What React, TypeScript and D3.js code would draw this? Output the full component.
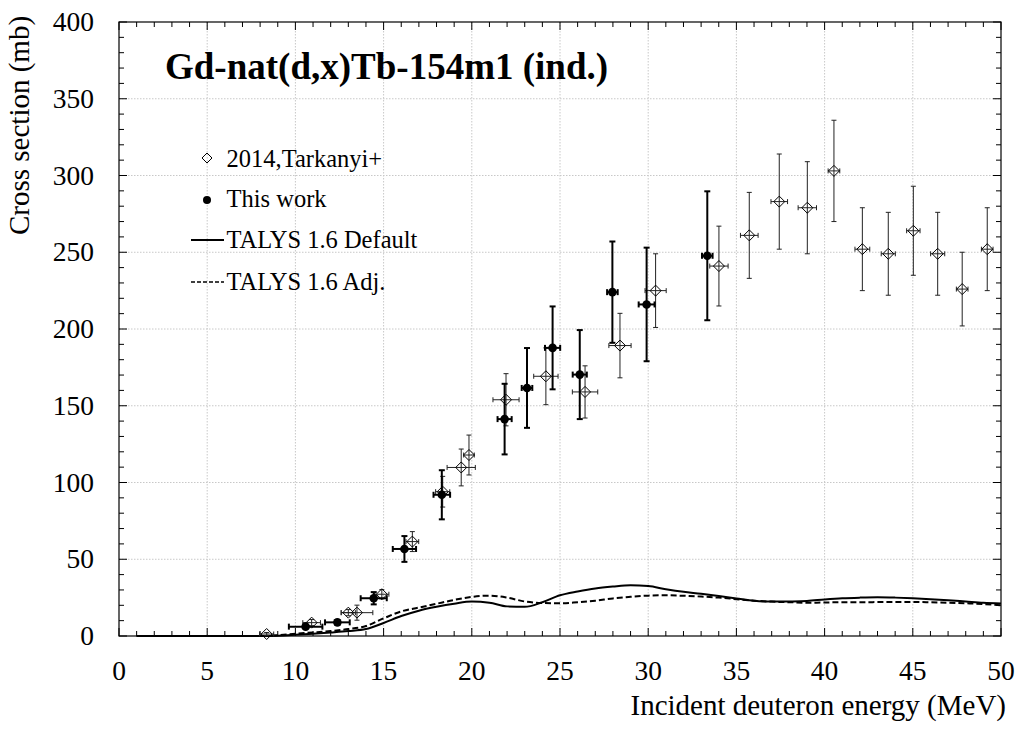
import { useEffect, useRef } from 'react';
import * as d3 from 'd3';

// Tarkanyi 2014 (open diamonds): energy, energy err, cross section, cs err
const tarE = [8.37, 10.92, 13.0, 13.49, 14.9, 16.63, 18.35, 19.4, 19.84, 21.94, 24.2, 26.42, 28.4, 30.42, 34.01, 35.73, 37.43, 39.02, 40.53, 42.14, 43.61, 45.03, 46.41, 47.8, 49.22];
const tarDE = [0.4, 0.5, 0.4, 0.9, 0.4, 0.36, 0.4, 0.8, 0.3, 0.74, 0.69, 0.72, 0.63, 0.6, 0.52, 0.5, 0.47, 0.52, 0.33, 0.42, 0.4, 0.38, 0.4, 0.33, 0.33];
const tarCS = [1.3, 8.7, 15.2, 15.2, 27.2, 61.5, 94, 109.8, 117.9, 153.9, 169.2, 159, 189.2, 225, 241, 261, 283, 279, 303, 252, 249, 264, 249, 226, 252];
const tarDCS = [1, 2, 2, 4.9, 3, 6.5, 10, 12, 13, 17, 18.5, 17, 21, 24, 26, 28, 31, 30, 33, 27, 27, 29, 27, 24, 27];

// This work (filled circles)
const thisE = [10.58, 12.38, 14.44, 16.18, 18.3, 21.86, 23.13, 24.58, 26.12, 27.97, 29.91, 33.35];
const thisDE = [0.95, 0.7, 0.74, 0.66, 0.47, 0.4, 0.3, 0.43, 0.4, 0.3, 0.45, 0.3];
const thisCS = [6.1, 8.9, 24.6, 56.7, 92, 141.3, 161.6, 187.7, 170.3, 224, 216, 247.7];
const thisDCS = [1, 1.5, 4, 8.4, 16, 23, 26, 27, 29, 33, 37, 42];

// TALYS curves
const talysE = [1, 5, 8, 9, 10, 11, 12, 13, 14, 15, 16, 17, 18, 19, 20, 21, 22, 23, 24, 25, 26, 27, 28, 29, 30, 31, 32, 33, 34, 35, 36, 37, 38, 39, 40, 41, 42, 43, 44, 45, 46, 47, 48, 49, 50];
const talysDefault = [0, 0, 0, 0.2, 0.8, 1.5, 2.3, 3.2, 4.5, 8.5, 13, 16.5, 19, 21, 22.4, 21.7, 19.3, 19, 22, 26.5, 29, 31, 32.2, 33, 32.5, 30.5, 28.8, 27.5, 26, 24.5, 23, 22.4, 22.5, 22.8, 23.8, 24.6, 25, 25.2, 25, 24.6, 24, 23.3, 22.5, 21.7, 21.2];
const talysAdj = [0, 0, 0, 0.5, 1.5, 2.3, 3.2, 4.5, 6.5, 11.5, 16, 18.5, 21, 23.5, 25.5, 26.3, 25, 22.5, 21.5, 21.3, 22, 23, 24.5, 25.5, 26.3, 26.5, 26.2, 25.7, 25, 24, 23, 22.4, 22, 21.7, 21.8, 22, 22, 22.1, 22.2, 22.2, 22, 21.7, 21.3, 20.8, 20];

const xTicks = [0, 5, 10, 15, 20, 25, 30, 35, 40, 45, 50];
const yTicks = [0, 50, 100, 150, 200, 250, 300, 350, 400];

const legendLabels = ['2014,Tarkanyi+', 'This work', 'TALYS 1.6 Default', 'TALYS 1.6 Adj.'];

const FONT = '"Liberation Serif", "Times New Roman", serif';

export default function App() {
  const svgRef = useRef<SVGSVGElement>(null);

  useEffect(() => {
    if (!svgRef.current) return;
    const svg = d3.select(svgRef.current);
    svg.selectAll('*').remove();

    const left = 119, right = 1001, top = 22, bottom = 636;
    const x = d3.scaleLinear().domain([0, 50]).range([left, right]);
    const y = d3.scaleLinear().domain([0, 400]).range([bottom, top]);

    const g = svg.append('g');

    // grid
    g.selectAll('.gx').data(xTicks.slice(1, -1)).enter().append('line')
      .attr('x1', d => x(d)).attr('x2', d => x(d)).attr('y1', top).attr('y2', bottom)
      .attr('stroke', '#c8c8c8').attr('stroke-width', 1).attr('stroke-dasharray', '1.5,1.5');
    g.selectAll('.gy').data(yTicks.slice(1, -1)).enter().append('line')
      .attr('x1', left).attr('x2', right).attr('y1', d => y(d)).attr('y2', d => y(d))
      .attr('stroke', '#c8c8c8').attr('stroke-width', 1).attr('stroke-dasharray', '1.5,1.5');

    // ticks (inward, all sides)
    const xMinor = d3.range(0, 51, 1);
    const yMinor = d3.range(0, 401, 10);
    xMinor.forEach(v => {
      const len = v % 5 === 0 ? 8 : 5;
      g.append('line').attr('x1', x(v)).attr('x2', x(v)).attr('y1', bottom).attr('y2', bottom - len).attr('stroke', '#000');
      g.append('line').attr('x1', x(v)).attr('x2', x(v)).attr('y1', top).attr('y2', top + len).attr('stroke', '#000');
    });
    yMinor.forEach(v => {
      const len = v % 50 === 0 ? 8 : 5;
      g.append('line').attr('x1', left).attr('x2', left + len).attr('y1', y(v)).attr('y2', y(v)).attr('stroke', '#000');
      g.append('line').attr('x1', right).attr('x2', right - len).attr('y1', y(v)).attr('y2', y(v)).attr('stroke', '#000');
    });

    // frame
    g.append('rect').attr('x', left).attr('y', top).attr('width', right - left).attr('height', bottom - top)
      .attr('fill', 'none').attr('stroke', '#000').attr('stroke-width', 1.2);

    // tick labels
    g.selectAll('.xl').data(xTicks).enter().append('text')
      .attr('x', d => x(d)).attr('y', 680).attr('text-anchor', 'middle')
      .attr('font-family', FONT).attr('font-size', 27.5).text(d => d);
    g.selectAll('.yl').data(yTicks).enter().append('text')
      .attr('x', 94).attr('y', d => y(d) + 9).attr('text-anchor', 'end')
      .attr('font-family', FONT).attr('font-size', 27.5).text(d => d);

    // axis titles
    g.append('text').attr('x', 1006).attr('y', 715).attr('text-anchor', 'end')
      .attr('font-family', FONT).attr('font-size', 29).text('Incident deuteron energy (MeV)');
    g.append('text').attr('transform', 'translate(29,235) rotate(-90)').attr('text-anchor', 'start')
      .attr('font-family', FONT).attr('font-size', 29).text('Cross section (mb)');

    // title
    g.append('text').attr('x', 165).attr('y', 79).attr('font-family', FONT).attr('font-weight', 'bold')
      .attr('font-size', 37).text('Gd-nat(d,x)Tb-154m1 (ind.)');

    // curves
    const line = d3.line<number>().x((_, i) => x(talysE[i])).y(d => y(d)).curve(d3.curveMonotoneX);
    g.append('path').attr('d', line(talysDefault)).attr('fill', 'none').attr('stroke', '#000').attr('stroke-width', 2);
    g.append('path').attr('d', line(talysAdj)).attr('fill', 'none').attr('stroke', '#000').attr('stroke-width', 2)
      .attr('stroke-dasharray', '6,3');

    const drawErr = (E: number[], DE: number[], CS: number[], DCS: number[], sw: number, col: string, cap: number) => {
      E.forEach((e, i) => {
        const cx = x(e), cy = y(CS[i]);
        const y1 = y(CS[i] + DCS[i]), y2 = y(Math.max(0, CS[i] - DCS[i]));
        const x1 = x(e - DE[i]), x2 = x(e + DE[i]);
        const eg = g.append('g').attr('stroke', col).attr('stroke-width', sw);
        eg.append('line').attr('x1', cx).attr('x2', cx).attr('y1', y1).attr('y2', y2);
        eg.append('line').attr('x1', cx - cap).attr('x2', cx + cap).attr('y1', y1).attr('y2', y1);
        eg.append('line').attr('x1', cx - cap).attr('x2', cx + cap).attr('y1', y2).attr('y2', y2);
        eg.append('line').attr('x1', x1).attr('x2', x2).attr('y1', cy).attr('y2', cy);
        eg.append('line').attr('x1', x1).attr('x2', x1).attr('y1', cy - cap).attr('y2', cy + cap);
        eg.append('line').attr('x1', x2).attr('x2', x2).attr('y1', cy - cap).attr('y2', cy + cap);
      });
    };

    drawErr(tarE, tarDE, tarCS, tarDCS, 1, '#222', 2.5);
    drawErr(thisE, thisDE, thisCS, thisDCS, 2, '#000', 3);

    const diamond = (cx: number, cy: number, r: number) =>
      `M${cx},${cy - r}L${cx + r},${cy}L${cx},${cy + r}L${cx - r},${cy}Z`;

    g.selectAll('.dia').data(tarE).enter().append('path')
      .attr('d', (d, i) => diamond(x(d), y(tarCS[i]), 5.5))
      .attr('fill', 'none').attr('stroke', '#000').attr('stroke-width', 1);
    g.selectAll('.dot').data(thisE).enter().append('circle')
      .attr('cx', d => x(d)).attr('cy', (_, i) => y(thisCS[i])).attr('r', 4.3).attr('fill', '#000');

    // legend
    const lg = g.append('g');
    const marks = [158, 200, 240, 282];
    const bases = [167, 207, 248, 290];
    lg.append('path').attr('d', diamond(207, marks[0], 5)).attr('fill', 'none').attr('stroke', '#000');
    lg.append('circle').attr('cx', 207).attr('cy', marks[1]).attr('r', 4).attr('fill', '#000');
    lg.append('line').attr('x1', 191).attr('x2', 224).attr('y1', marks[2]).attr('y2', marks[2]).attr('stroke', '#000').attr('stroke-width', 2);
    lg.append('line').attr('x1', 191).attr('x2', 224).attr('y1', marks[3]).attr('y2', marks[3]).attr('stroke', '#000').attr('stroke-width', 1.5).attr('stroke-dasharray', '4,2');
    legendLabels.forEach((t, i) => {
      lg.append('text').attr('x', 226.5).attr('y', bases[i])
        .attr('font-family', FONT).attr('font-size', 24.5).text(t);
    });
  }, []);

  return (
    <svg ref={svgRef} width={1023} height={730}
      style={{ position: 'absolute', left: 0, top: 0, background: '#fff' }} />
  );
}
